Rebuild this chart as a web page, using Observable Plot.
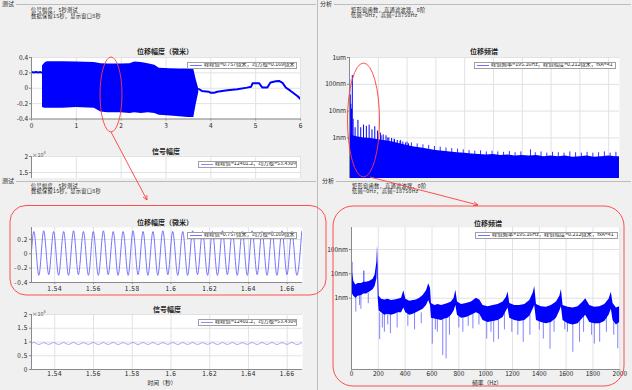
<!DOCTYPE html>
<html><head><meta charset="utf-8">
<script src="https://cdn.jsdelivr.net/npm/d3@7"></script>
<script src="https://cdn.jsdelivr.net/npm/@observablehq/plot@0.6"></script>
<style>
html,body{margin:0;padding:0;background:#f0f0f0;}
#root{position:relative;width:632px;height:390px;overflow:hidden;background:#f0f0f0;font-family:"Noto Sans CJK SC","Noto Sans",sans-serif;}
.clip{position:absolute;overflow:hidden;}
.t{position:absolute;white-space:nowrap;line-height:1;color:#262626;}
.hl{position:absolute;height:1px;background:#bdbdbd;}
.lg{position:absolute;box-sizing:border-box;border:1px solid #a0a0a0;background:#fff;display:flex;align-items:center;white-space:nowrap;color:#262626;line-height:1;overflow:hidden;}
.lg i{display:inline-block;width:12px;height:1px;margin:0 2px 0 2px;flex:none;}
</style></head><body>
<div id="root">
<div id="clipTL" class="clip" style="left:0;top:0;width:317px;height:178px"></div>
<div id="clipTR" class="clip" style="left:318px;top:0;width:314px;height:178px"></div>
</div>
<script>
// ---------------- DATA ----------------
// Top-left: displacement, 0..6 s
const tlPreT = [0, 0.05, 0.1, 0.15, 0.2, 0.245];
const tlPreV = [0.21, 0.205, 0.21, 0.205, 0.21, 0.2];
const tlBandT = [0.245, 0.3, 0.35, 0.7, 1.0, 1.4, 1.55, 1.7, 2.0, 2.2, 2.3, 2.45, 2.6, 2.75, 2.85, 3.1, 3.3, 3.5, 3.62, 3.67, 3.73];
const tlBandTop = [0.29, 0.33, 0.345, 0.345, 0.34, 0.335, 0.32, 0.315, 0.315, 0.32, 0.34, 0.335, 0.32, 0.30, 0.26, 0.255, 0.25, 0.25, 0.245, 0.12, -0.01];
const tlBandBot = [-0.25, -0.26, -0.26, -0.26, -0.25, -0.26, -0.31, -0.32, -0.32, -0.33, -0.32, -0.33, -0.32, -0.33, -0.35, -0.36, -0.37, -0.38, -0.38, -0.22, -0.06];
const tlPostT = [3.73, 3.8, 3.95, 4.0, 4.07, 4.14, 4.37, 4.59, 4.81, 4.9, 4.93, 5.08, 5.12, 5.15, 5.26, 5.33, 5.45, 5.52, 5.6, 5.67, 5.78, 5.93, 6.0];
const tlPostV = [-0.01, -0.035, -0.045, -0.06, -0.06, -0.045, -0.027, -0.013, 0.008, 0.02, 0.065, 0.065, 0.03, 0.01, 0.01, 0.075, 0.09, 0.095, 0.07, 0.01, -0.035, -0.1, -0.14];
// Top-left: signal amplitude 0..6 s (below the visible window)
const tlSigT = [0, 0.25, 0.3, 3.65, 3.7, 6];
const tlSigV = [9000, 9000, 9500, 9500, 9000, 9000];

// Bottom-left: zoomed displacement and signal, 1.528..1.668 s
const blT = [1.5279,
 1.5292,1.5318, 1.5343,1.5369, 1.5394,1.5420, 1.5446,1.5471, 1.5497,1.5522,
 1.5548,1.5574, 1.5599,1.5625, 1.5651,1.5676, 1.5702,1.5727, 1.5753,1.5779,
 1.5804,1.5830, 1.5856,1.5881, 1.5907,1.5932, 1.5958,1.5984, 1.6009,1.6035,
 1.6061,1.6086, 1.6112,1.6137, 1.6163,1.6189, 1.6214,1.6240, 1.6266,1.6291,
 1.6317,1.6342, 1.6368,1.6394, 1.6419,1.6445, 1.6470,1.6496, 1.6522,1.6547,
 1.6573,1.6599, 1.6624,1.6650, 1.6675];
const blV = [0.0,
 0.31,-0.30, 0.32,-0.29, 0.31,-0.30, 0.31,-0.30, 0.32,-0.29,
 0.31,-0.30, 0.31,-0.30, 0.32,-0.29, 0.31,-0.30, 0.31,-0.30,
 0.32,-0.29, 0.31,-0.30, 0.31,-0.30, 0.32,-0.29, 0.31,-0.30,
 0.31,-0.30, 0.32,-0.29, 0.31,-0.30, 0.31,-0.30, 0.32,-0.29,
 0.31,-0.30, 0.31,-0.30, 0.32,-0.29, 0.31,-0.30, 0.31,-0.30,
 0.32,-0.29, 0.31,-0.30, 0.31];
const blS = [9450,
 9800,9100, 9750,9150, 9800,9100, 9780,9120, 9800,9100,
 9750,9150, 9800,9100, 9780,9120, 9800,9100, 9750,9150,
 9800,9100, 9780,9120, 9800,9100, 9750,9150, 9800,9100,
 9780,9120, 9800,9100, 9750,9150, 9800,9100, 9780,9120,
 9800,9100, 9750,9150, 9800,9100, 9780,9120, 9800,9100,
 9750,9150, 9800,9100, 9780];

// Top-right: spectrum 0..18750 Hz (nm)
const trF = [0, 500, 1000, 1500, 2000, 2500, 3000, 3500, 4000, 4500, 5000, 5500, 6000, 6500, 7000, 7500, 8000, 8500, 9000, 9500, 10000, 10500, 11000, 11500, 12000, 12500, 13000, 13500, 14000, 14500, 15000, 15500, 16000, 16500, 17000, 17500, 18000, 18500, 18750];
const trTop = [1.3, 1.1, 1.0, 0.95, 0.85, 0.78, 0.7, 0.6, 0.52, 0.46, 0.42, 0.38, 0.34, 0.32, 0.3, 0.28, 0.27, 0.25, 0.24, 0.23, 0.24, 0.22, 0.23, 0.21, 0.22, 0.21, 0.22, 0.2, 0.21, 0.2, 0.21, 0.19, 0.2, 0.21, 0.19, 0.2, 0.21, 0.2, 0.2];
const trHF = [15, 50, 95, 140, 195, 250, 390, 585, 780, 975, 1170, 1365, 1560, 1755, 1950, 2145, 2340, 2535, 2730, 2925, 3120, 3315, 3510, 3705, 3900, 4095];
const trHV = [150, 40, 18, 12, 212, 5, 2.4, 4.5, 2.4, 3.0, 2.7, 3.0, 2.0, 2.6, 1.8, 1.5, 1.3, 1.2, 1.0, 0.95, 0.85, 0.8, 0.75, 0.7, 0.65, 0.6];
const trNF = [2200, 2650, 3100, 3550, 4000, 4300, 4700, 5100, 5500, 5900, 6300, 6700, 7100, 7500, 7900, 8300, 8700, 9100, 9500, 9900, 10300, 10700, 11100, 11500, 11900, 12570, 12900, 13300, 13700, 14100, 14500, 14900, 15300, 15700, 16100, 16500, 16900, 17300, 17700, 18100, 18500];
const trNV = [1.2, 1.0, 0.9, 0.8, 0.7, 0.65, 0.6, 0.55, 0.52, 0.48, 0.45, 0.42, 0.4, 0.38, 0.36, 0.34, 0.32, 0.33, 0.3, 0.32, 0.3, 0.29, 0.31, 0.28, 0.3, 0.36, 0.28, 0.3, 0.27, 0.29, 0.28, 0.27, 0.3, 0.28, 0.27, 0.29, 0.27, 0.28, 0.3, 0.27, 0.29];

// Bottom-right: spectrum 0..2000 Hz (nm)
const brF = [0, 7, 17, 32, 50, 75, 92, 112, 137, 161, 176, 189, 194, 199, 206, 224, 248, 273, 298, 323, 348, 373, 390, 405, 435, 460, 484, 509, 534, 559, 576, 589, 596, 621, 646, 671, 696, 720, 745, 765, 778, 790, 820, 857, 894, 931, 956, 981, 1018, 1056, 1093, 1130, 1155, 1167, 1180, 1217, 1254, 1292, 1329, 1354, 1366, 1379, 1416, 1453, 1490, 1528, 1553, 1565, 1577, 1615, 1652, 1689, 1726, 1746, 1776, 1813, 1851, 1888, 1920, 1937, 1950, 1975, 2000];
const brHi = [48, 12, 5, 3.5, 4.0, 4.0, 4.5, 4.5, 5.0, 6.0, 9, 30, 145, 20, 1.2, 0.9, 0.85, 0.9, 0.8, 0.85, 0.9, 1.0, 2.0, 0.9, 0.75, 0.8, 0.85, 1.0, 1.3, 2.0, 3.9, 2.5, 0.6, 0.5, 0.55, 0.5, 0.55, 0.6, 0.7, 1.0, 2.1, 0.7, 0.55, 0.6, 0.7, 1.0, 0.85, 0.5, 0.45, 0.5, 0.55, 0.7, 1.1, 1.8, 0.6, 0.5, 0.5, 0.55, 0.8, 1.6, 3.0, 0.55, 0.45, 0.42, 0.5, 0.7, 1.2, 2.3, 0.5, 0.42, 0.4, 0.45, 0.7, 0.95, 0.5, 0.42, 0.45, 0.55, 0.9, 1.76, 0.6, 0.4, 0.45];
const brLo = [0.1, 1.5, 1.2, 1.0, 1.2, 1.3, 1.5, 1.5, 1.8, 2.2, 3, 6, 20, 1.0, 0.3, 0.25, 0.2, 0.22, 0.2, 0.22, 0.25, 0.25, 0.4, 0.25, 0.2, 0.22, 0.25, 0.3, 0.35, 0.5, 0.8, 0.5, 0.15, 0.14, 0.13, 0.12, 0.14, 0.15, 0.2, 0.3, 0.5, 0.2, 0.15, 0.16, 0.2, 0.25, 0.22, 0.12, 0.1, 0.11, 0.12, 0.16, 0.3, 0.4, 0.15, 0.12, 0.11, 0.12, 0.18, 0.35, 0.5, 0.12, 0.1, 0.09, 0.1, 0.15, 0.3, 0.45, 0.12, 0.09, 0.08, 0.09, 0.15, 0.2, 0.1, 0.09, 0.09, 0.11, 0.2, 0.35, 0.12, 0.08, 0.1];
const brDipF = [32, 60, 70, 125, 210, 230, 245, 270, 290, 340, 420, 470, 520, 602, 625, 640, 680, 705, 730, 800, 830, 870, 905, 950, 1008, 1040, 1060, 1095, 1140, 1195, 1240, 1280, 1330, 1400, 1430, 1480, 1510, 1590, 1610, 1650, 1700, 1730, 1790, 1810, 1850, 1900, 1955, 1985];
const brDipV = [0.27, 0.5, 0.35, 0.6, 0.02, 0.06, 0.04, 0.08, 0.035, 0.06, 0.07, 0.05, 0.09, 0.013, 0.05, 0.04, 0.0044, 0.0032, 0.03, 0.06, 0.04, 0.07, 0.055, 0.08, 0.021, 0.04, 0.0155, 0.02, 0.05, 0.04, 0.03, 0.0155, 0.03, 0.05, 0.021, 0.008, 0.04, 0.05, 0.04, 0.006, 0.0155, 0.04, 0.03, 0.013, 0.0155, 0.04, 0.03, 0.0083];
const brDipTop = [1.3, 1.5, 1.5, 1.6, 0.25, 0.25, 0.25, 0.25, 0.25, 0.25, 0.25, 0.25, 0.25, 0.25, 0.25, 0.25, 0.25, 0.25, 0.25, 0.25, 0.25, 0.25, 0.25, 0.25, 0.25, 0.25, 0.25, 0.25, 0.25, 0.25, 0.25, 0.25, 0.25, 0.25, 0.25, 0.25, 0.25, 0.25, 0.25, 0.25, 0.25, 0.25, 0.25, 0.25, 0.25, 0.25, 0.25, 0.25];
const brSpkF = [3, 92];
const brSpkV = [30, 12.9];

// Tick labels
const tlXTicks = [0, 1, 2, 3, 4, 5, 6];
const dispYTicks = [-0.4, -0.2, 0, 0.2, 0.4];
const sigYTicks = [0, 5000, 10000, 15000, 20000];
const blXTicks = [1.54, 1.56, 1.58, 1.6, 1.62, 1.64, 1.66];
const trXTicks = [0, 2000, 4000, 6000, 8000, 10000, 12000, 14000, 16000, 18000];
const trYTicks = [1, 10, 100, 1000];
const brXTicks = [0, 200, 400, 600, 800, 1000, 1200, 1400, 1600, 1800, 2000];
const brYTicks = [1, 10, 100];

// ---------------- BUILD ----------------
const BLUE = "#0000ff", LBLUE = "#6262ff", GRID = "#e2e2e2", AX = "#8a8a8a";
const FONT = '"Noto Sans CJK SC","Noto Sans",sans-serif';
const root = document.getElementById("root");
const clipTL = document.getElementById("clipTL");
const clipTR = document.getElementById("clipTR");
const M = {l: 26, r: 4, t: 4, b: 16};
const zip = (keys, arrs) => arrs[0].map((_, i) => Object.fromEntries(keys.map((k, j) => [k, arrs[j][i]])));

function place(parent, ox, oy, rect, opts, extraStyle) {
  const svg = Plot.plot(Object.assign({
    width: rect.w + M.l + M.r, height: rect.h + M.t + M.b,
    marginLeft: M.l, marginRight: M.r, marginTop: M.t, marginBottom: M.b,
    style: Object.assign({fontFamily: FONT, fontSize: "6.5px", color: "#262626", background: "transparent", overflow: "visible"}, extraStyle || {})
  }, opts));
  svg.style.position = "absolute";
  svg.style.left = (rect.x - M.l - ox) + "px";
  svg.style.top = (rect.y - M.t - oy) + "px";
  parent.appendChild(svg);
}
function base(xt, yt) {
  return [
    Plot.frame({fill: "white", stroke: null}),
    Plot.gridX(xt, {stroke: GRID, strokeOpacity: 1}),
    Plot.gridY(yt, {stroke: GRID, strokeOpacity: 1})
  ];
}
function axes(xt, yt, xf, yf, x0, y0, xsize, xpad) {
  const out = [
    Plot.axisY({ticks: yt, tickFormat: yf, tickSize: 2, tickPadding: 1.5, stroke: AX, label: null}),
    Plot.ruleX([x0], {stroke: AX})
  ];
  if (xt) {
    out.push(Plot.axisX({ticks: xt, tickFormat: xf, tickSize: xsize, tickPadding: xpad, stroke: AX, label: null}));
    out.push(Plot.ruleY([y0], {stroke: AX}));
  }
  return out;
}
const numFmt = d => String(d);
const sigFmt = d => String(d / 10000);
const nmFmt = d => d >= 1000 ? (d / 1000) + "um" : d + "nm";

// A: top-left displacement
place(clipTL, 0, 0, {x: 31, y: 56.5, w: 269, h: 61.5}, {
  x: {domain: [0, 6]}, y: {domain: [-0.4, 0.4]},
  marks: [
    ...base(tlXTicks, dispYTicks),
    Plot.areaY(zip(["t", "top", "bot"], [tlBandT, tlBandTop, tlBandBot]), {x: "t", y1: "bot", y2: "top", fill: BLUE, clip: true}),
    Plot.lineY(zip(["t", "v"], [tlPreT, tlPreV]), {x: "t", y: "v", stroke: BLUE, strokeWidth: 2, clip: true}),
    Plot.lineY(zip(["t", "v"], [tlPostT, tlPostV]), {x: "t", y: "v", stroke: BLUE, strokeWidth: 2, clip: true}),
    ...axes(tlXTicks, dispYTicks, numFmt, numFmt, 0, -0.4, 2, 2.5)
  ]
});
// B: top-left signal (clipped at panel bottom; its x axis lies below the panel)
place(clipTL, 0, 0, {x: 31, y: 155.7, w: 269, h: 64}, {
  x: {domain: [0, 6], axis: null}, y: {domain: [0, 20000]},
  marks: [
    ...base(tlXTicks, sigYTicks),
    Plot.lineY(zip(["t", "v"], [tlSigT, tlSigV]), {x: "t", y: "v", stroke: LBLUE, strokeWidth: 0.8, clip: true}),
    ...axes(null, [15000, 20000], numFmt, sigFmt, 0, 0)
  ]
});
// C: top-right spectrum (clipped at panel bottom; its x axis lies below the panel)
place(clipTR, 318, 0, {x: 349, y: 57, w: 270, h: 134}, {
  x: {domain: [0, 18750], axis: null}, y: {type: "log", domain: [0.01, 1000]},
  marks: [
    ...base(trXTicks, trYTicks),
    Plot.areaY(zip(["f", "top"], [trF, trTop]), {x: "f", y1: 0.01, y2: "top", fill: BLUE, clip: true}),
    Plot.ruleX(zip(["f", "v"], [trNF, trNV]), {x: "f", y1: 0.05, y2: "v", stroke: BLUE, strokeWidth: 0.8, clip: true}),
    Plot.ruleX(zip(["f", "v"], [trHF, trHV]), {x: "f", y1: 0.05, y2: "v", stroke: BLUE, strokeWidth: 1, clip: true}),
    ...axes(null, trYTicks, numFmt, nmFmt, 0, 0.01)
  ]
});
// D: bottom-left zoomed displacement
place(root, 0, 0, {x: 31, y: 227.3, w: 271, h: 55}, {
  x: {domain: [1.528, 1.6679]}, y: {domain: [-0.4, 0.366]},
  marks: [
    ...base(blXTicks, [-0.4, -0.2, 0, 0.2]),
    Plot.line(zip(["t", "v"], [blT, blV]), {x: "t", y: "v", stroke: "#5050ff", strokeWidth: 0.8, curve: "monotone-x", clip: true}),
    ...axes(blXTicks, [-0.4, -0.2, 0, 0.2], numFmt, numFmt, 1.528, -0.4, 2, 2)
  ]
}, {letterSpacing: "0.6px"});
// E: bottom-left zoomed signal
place(root, 0, 0, {x: 31, y: 314.3, w: 271, h: 55}, {
  x: {domain: [1.528, 1.6679]}, y: {domain: [0, 20000]},
  marks: [
    ...base(blXTicks, sigYTicks),
    Plot.line(zip(["t", "v"], [blT, blS]), {x: "t", y: "v", stroke: "#8c8cff", strokeWidth: 0.8, curve: "monotone-x", clip: true}),
    ...axes(blXTicks, sigYTicks, numFmt, sigFmt, 1.528, 0, 1.5, 0.3)
  ]
}, {letterSpacing: "0.6px"});
// F: bottom-right zoomed spectrum
place(root, 0, 0, {x: 351, y: 227, w: 268.3, h: 142}, {
  x: {domain: [0, 2000]}, y: {type: "log", domain: [0.00118, 801]},
  marks: [
    ...base(brXTicks, brYTicks),
    Plot.ruleX(zip(["f", "v", "top"], [brDipF, brDipV, brDipTop]), {x: "f", y1: "v", y2: "top", stroke: LBLUE, strokeWidth: 0.8, clip: true}),
    Plot.ruleX(zip(["f", "v"], [brSpkF, brSpkV]), {x: "f", y1: 2, y2: "v", stroke: BLUE, strokeWidth: 0.8, clip: true}),
    Plot.areaY(zip(["f", "hi", "lo"], [brF, brHi, brLo]), {x: "f", y1: "lo", y2: "hi", fill: BLUE, clip: true}),
    ...axes(brXTicks, brYTicks, numFmt, nmFmt, 0, 0.00118, 1.5, 0.3)
  ]
});

// ---------------- TEXT / DECORATION ----------------
function T(x, y, html, o) {
  o = o || {};
  const d = document.createElement("div");
  d.className = "t";
  d.innerHTML = html;
  const s = o.size || 5.2;
  d.style.fontSize = s + "px";
  d.style.left = x + "px";
  d.style.top = (y - s * 0.55) + "px";
  if (o.bold) d.style.fontWeight = "bold";
  if (o.mid) d.style.transform = "translateX(-50%)";
  if (o.color) d.style.color = o.color;
  if (o.ls) d.style.letterSpacing = o.ls;
  root.appendChild(d);
}
function HL(x1, x2, y) {
  const d = document.createElement("div");
  d.className = "hl";
  d.style.left = x1 + "px"; d.style.top = y + "px"; d.style.width = (x2 - x1) + "px";
  root.appendChild(d);
}
function LG(x, y, w, h, txt, col) {
  const d = document.createElement("div");
  d.className = "lg";
  d.style.left = x + "px"; d.style.top = y + "px"; d.style.width = w + "px"; d.style.height = h + "px";
  d.style.fontSize = "5.3px";
  d.innerHTML = '<i style="background:' + col + '"></i><span>' + txt + '</span>';
  root.appendChild(d);
}
// group box lines
HL(16, 316, 4); HL(334, 631, 4); HL(16, 316, 181); HL(336, 631, 181);
const vl = document.createElement("div");
vl.style.cssText = "position:absolute;left:317px;top:0;width:1px;height:390px;background:#bdbdbd";
root.appendChild(vl);

const hdrTest = ["测试", "信号幅度，5秒测试", "数据保留15秒，显示窗口8秒"];
const hdrAna = ["分析", "矩形窗函数，高通滤波器，0阶", "低频=0Hz，高频=18750Hz"];
const hs = {ls: "0.3px"};
T(2, 4, hdrTest[0], {size: 6}); T(31, 9.8, hdrTest[1], hs); T(31, 15.4, hdrTest[2], hs);
T(320, 4, hdrAna[0], {size: 6}); T(351, 9.4, hdrAna[1], hs); T(351, 15, hdrAna[2], hs);
T(2, 181.5, hdrTest[0], {size: 6}); T(31, 185.6, hdrTest[1], hs); T(31, 191.2, hdrTest[2], hs);
T(322, 181, hdrAna[0], {size: 6}); T(352, 185.6, hdrAna[1], hs); T(352, 191.2, hdrAna[2], hs);

const tDisp = "位移幅度（微米）", tSig = "信号幅度", tSpec = "位移频谱";
T(165, 52, tDisp, {size: 7, bold: true, mid: true});
T(166, 151.5, tSig, {size: 7, bold: true, mid: true});
T(484, 52, tSpec, {size: 7, bold: true, mid: true});
T(165, 222.5, tDisp, {size: 7, bold: true, mid: true});
T(167, 310.2, tSig, {size: 7, bold: true, mid: true});
T(488, 223.5, tSpec, {size: 7, bold: true, mid: true});
T(32, 153, "×10<sup style='font-size:4px'>4</sup>", {size: 5.5, color: "#555"});
T(32, 312.5, "×10<sup style='font-size:4px'>4</sup>", {size: 5.5, color: "#555"});
T(162, 383.5, "时间（秒）", {size: 5.8, mid: true});
T(487, 383.5, "频率（Hz）", {size: 5.8, mid: true});

const lgDisp = "峰峰值=0.757微米，均方根=0.169微米";
const lgSig = "峰峰值=12401.2，均方根=53.430%";
const lgSpec = "峰值频率=195.16Hz，峰值幅度=0.212微米，fxA=41";
LG(187, 61.5, 110, 7, lgDisp, "#7070ff");
LG(198, 160.5, 99, 7, lgSig, "#8a8aff");
LG(474, 61.5, 142, 7, lgSpec, "#7070ff");
LG(187, 231.5, 110, 7, lgDisp, "#7070ff");
LG(198, 318.5, 99, 7, lgSig, "#8a8aff");
LG(475, 231.5, 143, 7, lgSpec, "#7070ff");

// red annotations
const ov = document.createElementNS("http://www.w3.org/2000/svg", "svg");
ov.setAttribute("width", 632); ov.setAttribute("height", 390);
ov.style.cssText = "position:absolute;left:0;top:0;pointer-events:none";
ov.innerHTML =
  '<g fill="none" stroke="#ff3c3c" stroke-width="0.9">' +
  '<ellipse cx="111" cy="94.5" rx="11" ry="37.5"/>' +
  '<line x1="111" y1="132" x2="147" y2="200"/>' +
  '<polyline points="143,197 147,200 146.8,195"/>' +
  '<rect x="10" y="205.5" width="316" height="89.5" rx="16"/>' +
  '<ellipse cx="363.5" cy="120" rx="16" ry="57"/>' +
  '<line x1="370" y1="177" x2="478" y2="205"/>' +
  '<polyline points="474.1,201.8 478,205 473.1,205.9"/>' +
  '<rect x="333" y="206" width="291" height="180" rx="20"/>' +
  '</g>';
root.appendChild(ov);
</script>
</body></html>
